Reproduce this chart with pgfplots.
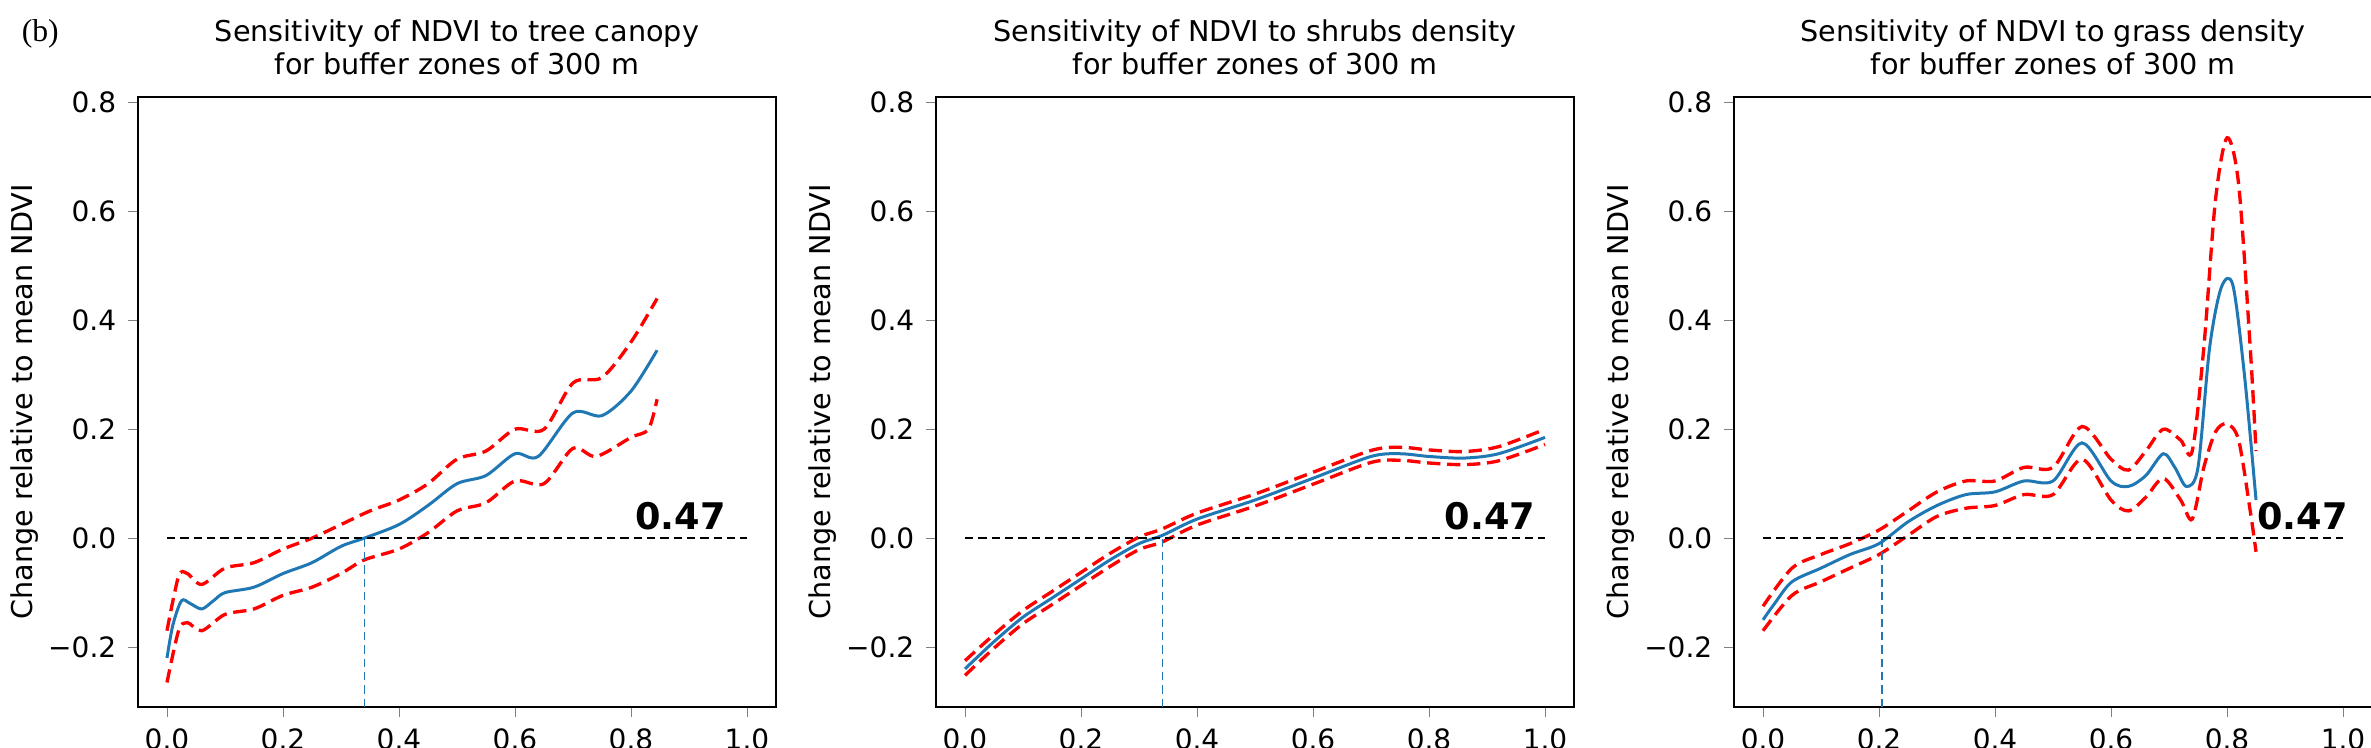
\documentclass[border=0pt]{standalone}
\usepackage{pgfplots}
\pgfplotsset{compat=1.18}
\usepackage{fontspec}
\setmainfont{DejaVu Sans}
\newfontfamily\serif{Liberation Serif}
\definecolor{mplblue}{RGB}{31,119,180}
\tikzset{lab/.style={font=\bfseries\fontsize{11}{12}\selectfont}}
\pgfplotsset{
 panel/.style={scale only axis, width=191.4pt, height=183pt, anchor=south west,
  xmin=-0.05, xmax=1.05, ymin=-0.31, ymax=0.81,
  xtick={0,0.2,0.4,0.6,0.8,1.0}, xticklabels={0.0,0.2,0.4,0.6,0.8,1.0},
  ytick={-0.2,0,0.2,0.4,0.6,0.8}, yticklabels={−0.2,0.0,0.2,0.4,0.6,0.8},
  tick label style={font=\fontsize{8.4}{10}\selectfont},
  label style={font=\fontsize{8.6}{10}\selectfont},
  title style={font=\fontsize{8.6}{10}\selectfont, align=center, yshift=-3pt},
  tick align=outside, major tick length=3pt, tick pos=left,
  axis line style={line width=0.5pt},
  ylabel={Change relative to mean NDVI}, ylabel style={yshift=-4pt},
  xlabel style={yshift=3pt}},
 mean/.style={mplblue, line width=0.9pt, smooth},
 band/.style={red, line width=1.0pt, dash pattern=on 4pt off 2pt, smooth},
 zero/.style={black, line width=0.6pt, dash pattern=on 2.5pt off 1.5pt},
 vert/.style={mplblue, line width=0.4pt, dash pattern=on 2.5pt off 1.5pt}
}
\begin{document}
\begin{tikzpicture}
\useasboundingbox (0,0) rectangle (711.3pt,224.4pt);
\node[anchor=north west, font=\serif\fontsize{9.5}{10}\selectfont] at (3pt,222pt) {(b)};
% Panel 1
\begin{axis}[panel, at={(41.4pt,12.3pt)},
 title={Sensitivity of NDVI to tree canopy\\for buffer zones of 300 m},
 xlabel={Tree canopy}]
\addplot[band] coordinates {(0,-0.17)(0.02,-0.07)(0.035,-0.065)(0.06,-0.085)(0.1,-0.055)(0.15,-0.045)(0.2,-0.02)(0.25,0.0)(0.3,0.025)(0.35,0.05)(0.4,0.07)(0.45,0.1)(0.5,0.145)(0.55,0.16)(0.6,0.2)(0.65,0.2)(0.7,0.285)(0.75,0.295)(0.8,0.36)(0.845,0.44)};
\addplot[band] coordinates {(0,-0.265)(0.02,-0.17)(0.035,-0.155)(0.06,-0.17)(0.1,-0.14)(0.15,-0.13)(0.2,-0.105)(0.25,-0.09)(0.3,-0.065)(0.34,-0.04)(0.4,-0.02)(0.45,0.01)(0.5,0.05)(0.55,0.065)(0.6,0.105)(0.65,0.1)(0.7,0.165)(0.74,0.15)(0.8,0.185)(0.83,0.2)(0.845,0.255)};
\addplot[mean] coordinates {(0,-0.22)(0.01,-0.16)(0.025,-0.115)(0.04,-0.12)(0.06,-0.13)(0.08,-0.115)(0.1,-0.1)(0.15,-0.09)(0.2,-0.065)(0.25,-0.045)(0.3,-0.015)(0.34,0.0)(0.4,0.025)(0.45,0.06)(0.5,0.1)(0.55,0.115)(0.6,0.155)(0.64,0.15)(0.7,0.23)(0.75,0.225)(0.8,0.27)(0.845,0.345)};
\addplot[zero] coordinates {(0,0)(1,0)};
\addplot[vert] coordinates {(0.34,-0.31)(0.34,0)};
\node[lab] at (axis cs:0.885,0.04) {0.47};
\end{axis}
% Panel 2
\begin{axis}[panel, at={(280.8pt,12.3pt)},
 title={Sensitivity of NDVI to shrubs density\\for buffer zones of 300 m},
 xlabel={Forbs and shrubs}]
\addplot[band] coordinates {(0,-0.225)(0.05,-0.177)(0.1,-0.133)(0.15,-0.098)(0.2,-0.063)(0.25,-0.028)(0.3,0.002)(0.34,0.017)(0.4,0.046)(0.5,0.081)(0.6,0.121)(0.7,0.161)(0.75,0.167)(0.8,0.162)(0.86,0.159)(0.92,0.168)(1.0,0.2)};
\addplot[band] coordinates {(0,-0.252)(0.05,-0.202)(0.1,-0.157)(0.15,-0.122)(0.2,-0.087)(0.25,-0.052)(0.3,-0.021)(0.34,-0.007)(0.4,0.024)(0.5,0.059)(0.6,0.099)(0.7,0.139)(0.75,0.143)(0.8,0.138)(0.86,0.135)(0.92,0.142)(1.0,0.172)};
\addplot[mean] coordinates {(0,-0.24)(0.05,-0.19)(0.1,-0.145)(0.15,-0.11)(0.2,-0.075)(0.25,-0.04)(0.3,-0.01)(0.34,0.005)(0.4,0.035)(0.5,0.07)(0.6,0.11)(0.7,0.15)(0.75,0.155)(0.8,0.15)(0.86,0.147)(0.92,0.155)(1.0,0.185)};
\addplot[zero] coordinates {(0,0)(1,0)};
\addplot[vert] coordinates {(0.34,-0.31)(0.34,0)};
\node[lab] at (axis cs:0.905,0.04) {0.47};
\end{axis}
% Panel 3
\begin{axis}[panel, at={(520.2pt,12.3pt)},
 title={Sensitivity of NDVI to grass density\\for buffer zones of 300 m},
 xlabel={Grass}]
\addplot[band] coordinates {(0,-0.125)(0.05,-0.055)(0.1,-0.03)(0.15,-0.01)(0.2,0.015)(0.25,0.05)(0.3,0.085)(0.35,0.105)(0.4,0.105)(0.45,0.13)(0.5,0.13)(0.55,0.205)(0.6,0.145)(0.63,0.125)(0.66,0.16)(0.69,0.2)(0.72,0.18)(0.74,0.16)(0.76,0.35)(0.78,0.62)(0.80,0.735)(0.82,0.65)(0.84,0.35)(0.85,0.16)};
\addplot[band] coordinates {(0,-0.17)(0.05,-0.105)(0.1,-0.08)(0.15,-0.055)(0.2,-0.03)(0.25,0.005)(0.3,0.04)(0.35,0.055)(0.4,0.06)(0.45,0.08)(0.5,0.08)(0.55,0.145)(0.6,0.07)(0.63,0.05)(0.66,0.075)(0.69,0.11)(0.72,0.07)(0.74,0.035)(0.76,0.13)(0.78,0.195)(0.80,0.21)(0.82,0.18)(0.84,0.05)(0.85,-0.025)};
\addplot[mean] coordinates {(0,-0.15)(0.02,-0.12)(0.05,-0.08)(0.1,-0.055)(0.15,-0.03)(0.2,-0.01)(0.25,0.03)(0.3,0.06)(0.35,0.08)(0.4,0.085)(0.45,0.105)(0.5,0.105)(0.55,0.175)(0.6,0.105)(0.63,0.095)(0.66,0.115)(0.69,0.155)(0.71,0.13)(0.73,0.095)(0.75,0.13)(0.77,0.35)(0.79,0.46)(0.81,0.465)(0.83,0.3)(0.85,0.07)};
\addplot[zero] coordinates {(0,0)(1,0)};
\addplot[vert] coordinates {(0.205,-0.31)(0.205,0)};
\node[lab] at (axis cs:0.93,0.04) {0.47};
\end{axis}
\end{tikzpicture}
\end{document}
